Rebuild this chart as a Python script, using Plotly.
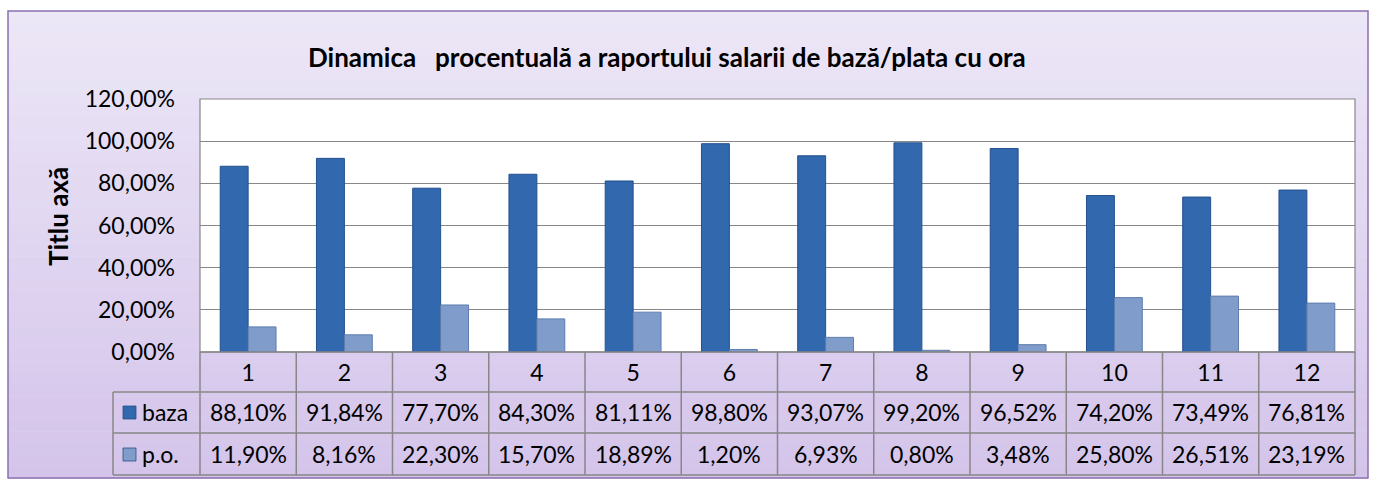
import plotly.graph_objects as go

categories = [str(i) for i in range(1, 13)]
baza = [0.8810, 0.9184, 0.7770, 0.8430, 0.8111, 0.9880, 0.9307, 0.9920, 0.9652, 0.7420, 0.7349, 0.7681]
po = [0.1190, 0.0816, 0.2230, 0.1570, 0.1889, 0.0120, 0.0693, 0.0080, 0.0348, 0.2580, 0.2651, 0.2319]
series_names = ["baza", "p.o."]
title_text = "Dinamica   procentuală a raportului salarii de bază/plata cu ora"
y_title = "Titlu axă"

W, H = 1373, 482
L, R, T, B = 200, 1355, 99, 352  # plot area in pixels
FONT = "Lato, 'Open Sans', sans-serif"
BAZA_C = "#3168AE"
PO_C = "#7F9CCB"
GRID = "#878787"
TXT = 23


def px(x):
    return (x - L) / (R - L)


def py(y):
    return (B - y) / (B - T)


fig = go.Figure()
fig.add_bar(x=categories, y=baza, name=series_names[0],
            marker=dict(color=BAZA_C, line=dict(color="#23508F", width=1)))
fig.add_bar(x=categories, y=po, name=series_names[1],
            marker=dict(color=PO_C, line=dict(color="#5E7DAE", width=1)))

shapes = []
# background gradient (lavender)
n = 40
top_c = (236, 231, 247)
bot_c = (212, 196, 234)
y0p, y1p = 11, 478
for i in range(n):
    t = i / (n - 1)
    c = tuple(round(top_c[k] + (bot_c[k] - top_c[k]) * t) for k in range(3))
    ya = y0p + (y1p - y0p) * i / n
    yb = y0p + (y1p - y0p) * (i + 1) / n
    shapes.append(dict(type="rect", xref="paper", yref="paper", layer="below",
                       x0=px(8), x1=px(1368), y0=py(ya), y1=py(yb + 0.5),
                       fillcolor="rgb(%d,%d,%d)" % c, line=dict(width=0)))
# outer border
shapes.append(dict(type="rect", xref="paper", yref="paper", layer="above",
                   x0=px(8), x1=px(1368), y0=py(11), y1=py(478),
                   line=dict(color="#8A72B0", width=1.5)))
# plot area white background
shapes.append(dict(type="rect", xref="paper", yref="paper", layer="below",
                   x0=0, x1=1, y0=0, y1=1, fillcolor="white", line=dict(color=GRID, width=1.2)))
# table lines
row_y = [352, 392, 433, 475]
ncol = len(categories)
for k, yy in enumerate(row_y):
    xa = L if k == 0 else 113
    shapes.append(dict(type="line", xref="paper", yref="paper", layer="above",
                       x0=px(xa), x1=1, y0=py(yy), y1=py(yy), line=dict(color=GRID, width=1.5)))
for c in range(ncol + 1):
    xx = L + (R - L) * c / ncol
    shapes.append(dict(type="line", xref="paper", yref="paper", layer="above",
                       x0=px(xx), x1=px(xx), y0=py(352), y1=py(475), line=dict(color=GRID, width=1.5)))
shapes.append(dict(type="line", xref="paper", yref="paper", layer="above",
                   x0=px(113), x1=px(113), y0=py(392), y1=py(475), line=dict(color=GRID, width=1.5)))
# legend keys
for (yc, col) in [(412, BAZA_C), (454, PO_C)]:
    shapes.append(dict(type="rect", xref="paper", yref="paper", layer="above",
                       x0=px(123), x1=px(136), y0=py(yc - 6), y1=py(yc + 7),
                       fillcolor=col, line=dict(color="#2B4F86", width=0.8)))

annotations = []
annotations.append(dict(text=f"<b>{title_text}</b>", xref="paper", yref="paper",
                        x=px(667), y=py(57), showarrow=False, xanchor="center", yanchor="middle",
                        font=dict(family=FONT, size=26, color="black")))
annotations.append(dict(text=f"<b>{y_title}</b>", xref="paper", yref="paper",
                        x=px(58), y=py(217), showarrow=False, textangle=-90,
                        xanchor="center", yanchor="middle",
                        font=dict(family=FONT, size=26, color="black")))


def fmt(v):
    return f"{v * 100:.2f}%".replace(".", ",")


for name, vals, yc in [(series_names[0], baza, 412), (series_names[1], po, 454)]:
    annotations.append(dict(text=name, xref="paper", yref="paper", x=px(140), y=py(yc),
                            showarrow=False, xanchor="left", yanchor="middle",
                            font=dict(family=FONT, size=TXT, color="black")))
    for i, v in enumerate(vals):
        annotations.append(dict(text=fmt(v), xref="x", yref="paper", x=i, y=py(yc),
                                showarrow=False, xanchor="center", yanchor="middle",
                                font=dict(family=FONT, size=TXT, color="black")))

fig.update_layout(
    width=W, height=H,
    margin=dict(l=L, r=W - R, t=T, b=H - B, pad=0),
    paper_bgcolor="white",
    plot_bgcolor="rgba(0,0,0,0)",
    separators=",.",
    barmode="group",
    bargap=0.42,
    bargroupgap=0,
    showlegend=False,
    shapes=shapes,
    annotations=annotations,
    font=dict(family=FONT, color="black"),
)
fig.update_yaxes(range=[0, 1.2], dtick=0.2, tickformat=".2%", showgrid=True, gridcolor=GRID,
                 gridwidth=1.2, zeroline=False, showline=False, ticks="",
                 tickfont=dict(family=FONT, size=TXT, color="black"), ticklabelstandoff=24)
fig.update_xaxes(showgrid=False, showline=False, ticks="", type="category",
                 range=[-0.5, len(categories) - 0.5],
                 tickfont=dict(family=FONT, size=TXT, color="black"), ticklabelstandoff=5)

fig.write_html("out.html", config={"displayModeBar": False},
               post_script="document.body.style.margin='0';document.body.style.overflow='hidden';")
